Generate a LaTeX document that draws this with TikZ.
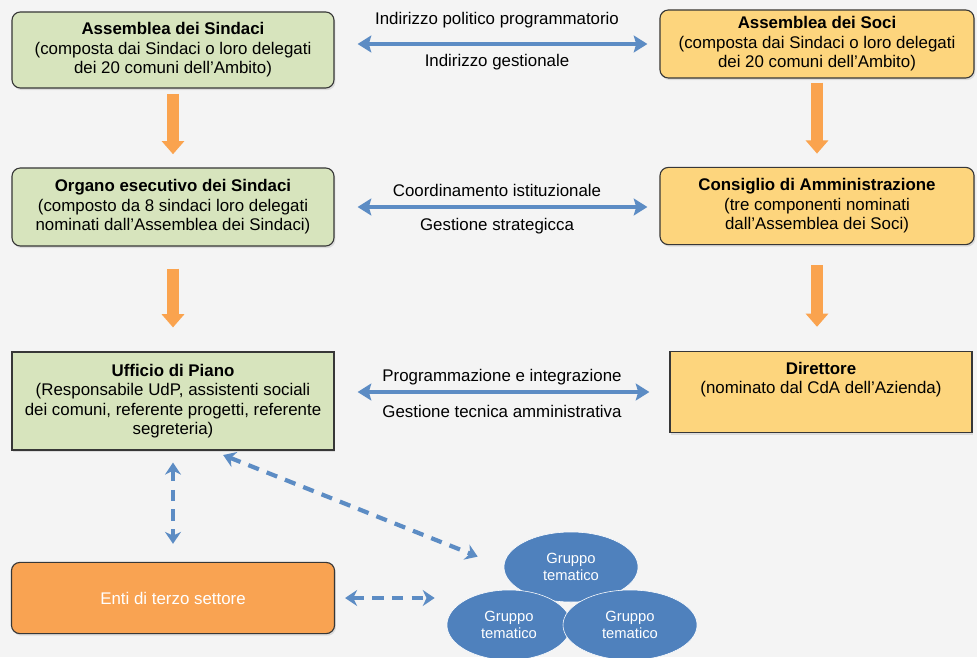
\documentclass[tikz,border=0pt]{standalone}
\usepackage{fontspec}
\setmainfont{Liberation Sans}
\definecolor{sindgreen}{RGB}{215,228,189}
\definecolor{sociyellow}{RGB}{253,213,125}
\definecolor{entiorange}{RGB}{249,163,82}
\definecolor{flowora}{RGB}{250,163,78}
\definecolor{linkblue}{RGB}{92,140,196}
\definecolor{grpblue}{RGB}{79,129,189}
\definecolor{bggray}{RGB}{244,244,244}
\definecolor{edgegray}{RGB}{55,55,55}
\usetikzlibrary{arrows.meta,positioning,shapes.geometric,shadows}

\begin{document}
\begin{tikzpicture}[x=0.025cm, y=-0.025cm,
  obox/.style={rectangle, draw=edgegray, thick, align=center,
               font=\fontsize{12}{13.8}\selectfont,
               drop shadow={shadow xshift=1pt, shadow yshift=-1.5pt, opacity=0.2}},
  gbox/.style={obox, fill=sindgreen, rounded corners=6pt, minimum width=8.05cm},
  ybox/.style={obox, fill=sociyellow, rounded corners=6pt, minimum width=7.85cm},
  grp/.style={ellipse, draw=white, thin, fill=grpblue, text=white, align=center,
              minimum width=3.35cm, minimum height=1.75cm,
              font=\fontsize{10.5}{12}\selectfont},
  lbl/.style={font=\fontsize{12}{13.8}\selectfont, inner sep=0pt},
  darr/.style={line width=0.3cm, draw=flowora, -{Triangle[length=0.33cm, width=0.55cm]}},
  barr/.style={line width=2.3pt, draw=linkblue,
               {Stealth[length=0.34cm, width=0.42cm, inset=0.06cm]}-{Stealth[length=0.34cm, width=0.42cm, inset=0.06cm]}},
  dash arr/.style={line width=3pt, draw=linkblue, dash pattern=on 8pt off 6pt,
               {Stealth[length=0.3cm, width=0.4cm]}-{Stealth[length=0.3cm, width=0.4cm]}}
]
% Background
\fill[bggray] (0,0) rectangle (977,657);
\useasboundingbox (0,0) rectangle (977,657);

% Left column
\node[gbox, minimum height=1.9cm]  (asind) at (173,50)  {\textbf{Assemblea dei Sindaci}\\(composta dai Sindaci o loro delegati\\dei 20 comuni dell’Ambito)};
\node[gbox, minimum height=1.95cm] (organo) at (173,207) {\textbf{Organo esecutivo dei Sindaci}\\(composto da 8 sindaci loro delegati\\nominati dall’Assemblea dei Sindaci)};
\node[gbox, rounded corners=0pt, minimum height=2.45cm] (udp) at (173,401) {\textbf{Ufficio di Piano}\\(Responsabile UdP, assistenti sociali\\dei comuni, referente progetti, referente\\segreteria)};
\node[obox, fill=entiorange, rounded corners=6pt, text=white, minimum width=8.075cm, minimum height=1.78cm] (enti) at (173,598) {Enti di terzo settore};

% Right column
\node[ybox, minimum height=1.7cm]  (asoci) at (817,44)  {\textbf{Assemblea dei Soci}\\(composta dai Sindaci o loro delegati\\dei 20 comuni dell’Ambito)};
\node[ybox, minimum height=1.93cm] (cda) at (817,206) {\textbf{Consiglio di Amministrazione}\\(tre componenti nominati\\dall’Assemblea dei Soci)};
\node[ybox, rounded corners=0pt, minimum width=7.55cm, minimum height=2.03cm] (dir) at (821,392) {};
\node[lbl, below=0.27cm of dir.north, align=center] (dirtxt) {\textbf{Direttore}\\(nominato dal CdA dell’Azienda)};

% Gruppi tematici
\node[grp] (g1) at (571,567) {Gruppo\\tematico};
\node[grp, minimum width=3.1cm] (g2) at (509,625) {Gruppo\\tematico};
\node[grp] (g3) at (630,625) {Gruppo\\tematico};

% Vertical flow arrows
\draw[darr, shorten <=0.13cm, shorten >=0.33cm] (asind.south) -- (organo.south |- organo.north);
\draw[darr, shorten <=0.55cm, shorten >=0.6cm]  (organo.south) -- (udp.north);
\draw[darr, shorten <=0.1cm, shorten >=0.33cm]  (asoci.south) -- (cda.north);
\draw[darr, shorten <=0.5cm, shorten >=0.6cm]   (cda.south) -- (cda.south |- dir.north);

% Horizontal links
\draw[barr, shorten <=0.575cm, shorten >=0.3cm] (asind.east |- asoci.west) -- (asoci.west)
  node[lbl, midway, above=10pt] {Indirizzo politico programmatorio}
  node[lbl, midway, below=6pt] {Indirizzo gestionale};
\draw[barr, shorten <=0.575cm, shorten >=0.3cm] (organo.east) -- (organo.east -| cda.west)
  node[lbl, midway, above=6.5pt] {Coordinamento istituzionale}
  node[lbl, midway, below=7pt] {Gestione strategicca};
\draw[barr, shorten <=0.575cm, shorten >=0.5cm] (udp.east |- dir.west) -- (dir.west)
  node[lbl, midway, above=3.5pt] {Programmazione e integrazione}
  node[lbl, midway, below=8.5pt] {Gestione tecnica amministrativa};

% Dashed links
\draw[dash arr, shorten <=0.3cm, shorten >=0.45cm] (udp.south) -- (enti.north);
\draw[dash arr, shorten <=0.3cm, shorten >=0.7cm] ([xshift=0.975cm]udp.south) -- (g1.west);
\draw[dash arr, shorten <=0.25cm, shorten >=0.3cm] (enti.east) -- (enti.east -| g2.west);
\end{tikzpicture}
\end{document}
